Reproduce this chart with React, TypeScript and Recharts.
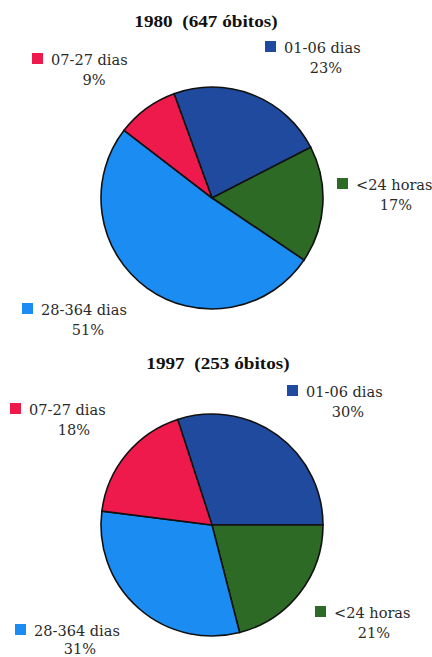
import { PieChart, Pie, Cell } from 'recharts'

// age groups, listed clockwise from the top of each pie
const ageGroups = ['01-06 dias', '<24 horas', '28-364 dias', '07-27 dias']
const share1980 = [23, 17, 51, 9]
const share1997 = [30, 21, 31, 18]
const deaths1980 = 647
const deaths1997 = 253

const COLORS = ['#1f4a9e', '#2d6a26', '#1a8cf2', '#ee1a4b']
const TITLE_FONT = 'Liberation Serif'
const KEY_FONT = 'DejaVu Serif'

// where each slice's key + percentage sit: marker left, first baseline, percent centre, line gap
const layout1980 = [
  { mx: 265, y: 53, px: 326, gap: 20 },
  { mx: 337, y: 190, px: 396, gap: 20 },
  { mx: 22, y: 315, px: 88, gap: 20 },
  { mx: 32, y: 65, px: 94, gap: 20 },
]
const layout1997 = [
  { mx: 287, y: 397, px: 348, gap: 20 },
  { mx: 315, y: 618, px: 374, gap: 20 },
  { mx: 15, y: 636, px: 80, gap: 18 },
  { mx: 10, y: 415, px: 74, gap: 20 },
]

const toRows = (values: number[]) => ageGroups.map((name, i) => ({ name, value: values[i] }))

const data1980 = toRows(share1980)
const data1997 = toRows(share1997)

const StretchText = ({ x, y, anchor = 'start', family = KEY_FONT, size = 15, sx = 0.97, weight = 'normal', color = '#2a2a2a', children }: any) => (
  <g transform={`translate(${x},${y}) scale(${sx},1)`}>
    <text
      x={0}
      y={0}
      textAnchor={anchor}
      fontFamily={family}
      fontSize={size}
      fontWeight={weight}
      fill={color}
      style={{ whiteSpace: 'pre' }}
    >
      {children}
    </text>
  </g>
)

const SliceKeys = ({ data, layout }: { data: { name: string; value: number }[]; layout: typeof layout1980 }) => (
  <g>
    {data.map((d, i) => {
      const pos = layout[i]
      return (
        <g key={d.name}>
          <rect x={pos.mx} y={pos.y - 12} width={11} height={11} fill={COLORS[i]} />
          <StretchText x={pos.mx + 19} y={pos.y}>{d.name}</StretchText>
          <StretchText x={pos.px} y={pos.y + pos.gap} anchor="middle">{`${d.value}%`}</StretchText>
        </g>
      )
    })}
  </g>
)

export default function App() {
  return (
    <div style={{ position: 'absolute', left: 0, top: 0, width: 432, height: 657, background: '#fff' }}>
      <PieChart width={432} height={657} margin={{ top: 0, right: 0, bottom: 0, left: 0 }}>
        <Pie
          data={data1980}
          dataKey="value"
          nameKey="name"
          cx={212}
          cy={198}
          outerRadius={111}
          startAngle={110}
          endAngle={-250}
          stroke="#111"
          strokeWidth={1.6}
          isAnimationActive={false}
        >
          {data1980.map((d, i) => (
            <Cell key={d.name} fill={COLORS[i]} />
          ))}
        </Pie>
        <Pie
          data={data1997}
          dataKey="value"
          nameKey="name"
          cx={212}
          cy={525}
          outerRadius={111}
          startAngle={108}
          endAngle={-252}
          stroke="#111"
          strokeWidth={1.6}
          isAnimationActive={false}
        >
          {data1997.map((d, i) => (
            <Cell key={d.name} fill={COLORS[i]} />
          ))}
        </Pie>
        <SliceKeys data={data1980} layout={layout1980} />
        <SliceKeys data={data1997} layout={layout1997} />
        <StretchText x={206} y={27} anchor="middle" family={TITLE_FONT} size={17} sx={1.13} weight="bold" color="#111">
          {`1980  (${deaths1980} óbitos)`}
        </StretchText>
        <StretchText x={218} y={369} anchor="middle" family={TITLE_FONT} size={17} sx={1.13} weight="bold" color="#111">
          {`1997  (${deaths1997} óbitos)`}
        </StretchText>
      </PieChart>
    </div>
  )
}
